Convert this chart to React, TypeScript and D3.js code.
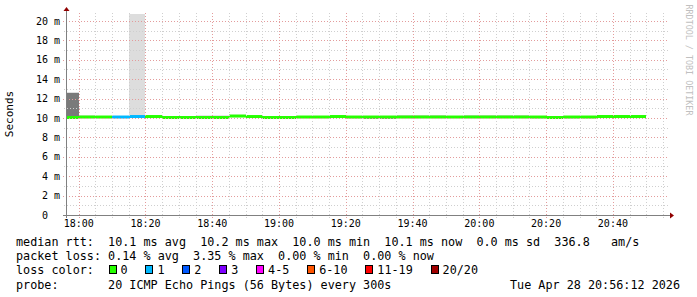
import React from 'react';
import * as d3 from 'd3';

// ---- data ----
const stepStarts = [
  "17:55", "18:00", "18:05", "18:10", "18:15", "18:20", "18:25", "18:30", "18:35", "18:40",
  "18:45", "18:50", "18:55", "19:00", "19:05", "19:10", "19:15", "19:20", "19:25", "19:30",
  "19:35", "19:40", "19:45", "19:50", "19:55", "20:00", "20:05", "20:10", "20:15", "20:20",
  "20:25", "20:30", "20:35", "20:40", "20:45",
];
const medianMs = [
  10.05, 10.1, 10.1, 10.1, 10.15, 10.15, 10.05, 10.05, 10.05, 10.05,
  10.2, 10.15, 10.05, 10.05, 10.1, 10.1, 10.15, 10.1, 10.1, 10.1,
  10.1, 10.1, 10.1, 10.1, 10.1, 10.1, 10.1, 10.1, 10.1, 10.05,
  10.1, 10.1, 10.15, 10.15, 10.15,
];
const smokeLowMs = [
  10.0, 10.05, 10.05, 10.05, 10.1, 10.1, 9.9, 9.9, 10.0, 10.0,
  10.15, 10.1, 9.9, 9.9, 10.05, 10.05, 10.1, 9.95, 9.9, 9.9,
  10.05, 10.05, 10.05, 10.05, 10.05, 10.05, 10.05, 10.05, 9.95, 9.92,
  9.95, 9.95, 10.1, 10.1, 10.1,
];
const smokeHighMs = [
  12.6, 10.25, 10.15, 10.2, 20.72, 10.25, 10.1, 10.1, 10.25, 10.25,
  10.32, 10.2, 10.1, 10.1, 10.15, 10.15, 10.2, 10.15, 10.15, 10.15,
  10.28, 10.28, 10.28, 10.15, 10.28, 10.28, 10.28, 10.28, 10.15, 10.1,
  10.15, 10.15, 10.3, 10.3, 10.3,
];
const smokeShade = [
  "#7a7a7a", "#c4c4c4", "#c4c4c4", "#c4c4c4", "#dddddd", "#c4c4c4", "#c4c4c4", "#c4c4c4", "#c4c4c4", "#c4c4c4",
  "#aaaaaa", "#c4c4c4", "#c4c4c4", "#c4c4c4", "#c4c4c4", "#c4c4c4", "#c4c4c4", "#c4c4c4", "#999999", "#999999",
  "#c4c4c4", "#c4c4c4", "#c4c4c4", "#c4c4c4", "#c4c4c4", "#c4c4c4", "#c4c4c4", "#c4c4c4", "#c4c4c4", "#555555",
  "#c4c4c4", "#c4c4c4", "#c4c4c4", "#c4c4c4", "#c4c4c4",
];
const lossCount = [
  0, 0, 0, 1, 1, 0, 0, 0, 0, 0,
  0, 0, 0, 0, 0, 0, 0, 0, 0, 0,
  0, 0, 0, 0, 0, 0, 0, 0, 0, 0,
  0, 0, 0, 0, 0,
];
const yTickValues = [0, 2, 4, 6, 8, 10, 12, 14, 16, 18, 20];
const xTickLabels = ["18:00", "18:20", "18:40", "19:00", "19:20", "19:40", "20:00", "20:20", "20:40"];
const lossLabels = ["0", "1", "2", "3", "4-5", "6-10", "11-19", "20/20"];
const lossColors = ["#26ff00", "#00b8ff", "#0059ff", "#7e00ff", "#ff00ff", "#ff5500", "#ff0000", "#a10000"];
const lossBins = [0, 1, 2, 3, 5, 10, 19, 20];

const legendLines = [
  "median rtt:  10.1 ms avg  10.2 ms max  10.0 ms min  10.1 ms now  0.0 ms sd  336.8   am/s",
  "packet loss: 0.14 % avg  3.35 % max  0.00 % min  0.00 % now",
];
const probeLabel = "probe:       20 ICMP Echo Pings (56 Bytes) every 300s";
const dateLabel = "Tue Apr 28 20:56:12 2026";

const parseHM = d3.timeParse("%H:%M");
const parseHMS = d3.timeParse("%H:%M:%S");

export default function App() {
  const W = 697, H = 297;
  const left = 66, right = 667, top = 14, bottom = 215;
  const x = d3.scaleTime()
    .domain([parseHMS("17:56:12")!, parseHMS("20:56:12")!])
    .range([left, right]);
  const y = d3.scaleLinear().domain([0, 20.72]).range([bottom, top]);

  const minorT = d3.timeMinute.every(5)!.range(x.domain()[0], x.domain()[1]);
  const majorT = xTickLabels.map((s) => parseHM(s)!);
  const minorY = d3.range(1, 21, 1);

  const mono = "'DejaVu Sans Mono', monospace";
  const charW = 11.78 * 0.602;
  const lossColorOf = (n: number) => {
    const i = lossBins.findIndex((b) => n <= b);
    return lossColors[i < 0 ? lossColors.length - 1 : i];
  };

  // loss legend positions
  let lx = 108.5;
  const lossItems = lossLabels.map((lab, i) => {
    const it = { x: lx, label: lab, color: lossColors[i] };
    lx += 11.5 + lab.length * charW + 18.3;
    return it;
  });

  return (
    <svg width={W} height={H} style={{ position: 'fixed', left: 0, top: 0, background: '#fff' }}
      xmlns="http://www.w3.org/2000/svg">
      <rect x={0} y={0} width={W} height={H} fill="#ffffff" />
      <defs>
        <clipPath id="plot">
          <rect x={left} y={top} width={right - left} height={bottom - top} />
        </clipPath>
      </defs>

      {/* smoke + median */}
      <g clipPath="url(#plot)">
        {stepStarts.map((s, i) => {
          const t0 = parseHM(s)!;
          const t1 = d3.timeMinute.offset(t0, 5);
          const x0 = Math.round(x(t0)), x1 = Math.round(x(t1));
          const yh = y(smokeHighMs[i]), yl = y(smokeLowMs[i]);
          return (
            <rect key={'s' + i} x={x0} y={yh} width={x1 - x0} height={yl - yh} fill={smokeShade[i]} />
          );
        })}
        {stepStarts.map((s, i) => {
          const t0 = parseHM(s)!;
          const t1 = d3.timeMinute.offset(t0, 5);
          const x0 = Math.round(x(t0)), x1 = Math.round(x(t1));
          const ym = y(medianMs[i]);
          return (
            <rect key={'m' + i} x={x0} y={ym - 1.5} width={x1 - x0} height={3} fill={lossColorOf(lossCount[i])} />
          );
        })}
      </g>

      {/* grid */}
      <g shapeRendering="crispEdges" strokeDasharray="1,2">
        {minorY.filter((v) => v % 2 !== 0).map((v) => (
          <line key={'hy' + v} x1={left - 2} x2={right + 1} y1={Math.round(y(v)) + 0.5} y2={Math.round(y(v)) + 0.5} stroke="#cfcfcf" />
        ))}
        {minorT.filter((t) => t.getMinutes() % 20 !== 0).map((t, i) => (
          <line key={'vx' + i} x1={Math.round(x(t)) + 0.5} x2={Math.round(x(t)) + 0.5} y1={top - 1} y2={bottom + 3} stroke="#cfcfcf" />
        ))}
        {yTickValues.filter((v) => v > 0).map((v) => (
          <line key={'my' + v} x1={left - 3} x2={right + 1} y1={Math.round(y(v)) + 0.5} y2={Math.round(y(v)) + 0.5} stroke="#e39c9c" />
        ))}
        {majorT.map((t, i) => (
          <line key={'mx' + i} x1={Math.round(x(t)) + 0.5} x2={Math.round(x(t)) + 0.5} y1={top - 1} y2={bottom + 3} stroke="#e39c9c" />
        ))}
      </g>

      {/* axes */}
      <g shapeRendering="crispEdges">
        <line x1={left - 3} x2={right + 3} y1={bottom + 0.5} y2={bottom + 0.5} stroke="#808080" />
        <line x1={left + 0.5} x2={left + 0.5} y1={bottom + 3} y2={top - 3} stroke="#808080" />
      </g>
      <path d={`M${right + 3},${bottom - 2.5} L${right + 7},${bottom + 0.5} L${right + 3},${bottom + 3.5} Z`} fill="#900000" />
      <path d={`M${left - 2.5},${top - 3} L${left + 0.5},${top - 7} L${left + 3.5},${top - 3} Z`} fill="#900000" />

      {/* y tick labels */}
      {yTickValues.map((v) => (
        <text key={'yl' + v} x={60} y={y(v) + 3.6} textAnchor="end" fontFamily={mono} fontSize={10} fill="#000"
          style={{ whiteSpace: 'pre' }}>{v === 0 ? '0  ' : `${v} m`}</text>
      ))}
      {/* x tick labels */}
      {majorT.map((t, i) => (
        <text key={'xl' + i} x={x(t)} y={227} textAnchor="middle" fontFamily={mono} fontSize={10} fill="#000">
          {xTickLabels[i]}
        </text>
      ))}

      <text transform="translate(13,114) rotate(-90)" textAnchor="middle" fontFamily={mono} fontSize={11} fill="#000">Seconds</text>
      <text transform="translate(686,60) rotate(90)" textAnchor="middle" fontFamily={mono} fontSize={8.4} fill="#c0c0c0">RRDTOOL / TOBI OETIKER</text>

      {/* legend */}
      {legendLines.map((l, i) => (
        <text key={'lg' + i} x={16} y={245.6 + i * 14.3} fontFamily={mono} fontSize={11.78} fill="#000"
          style={{ whiteSpace: 'pre' }}>{l}</text>
      ))}
      <text x={16} y={274.2} fontFamily={mono} fontSize={11.78} fill="#000" style={{ whiteSpace: 'pre' }}>loss color:</text>
      {lossItems.map((it, i) => (
        <g key={'li' + i}>
          <rect x={Math.round(it.x) + 0.5} y={265.5} width={7} height={8} fill={it.color} stroke="#000" shapeRendering="crispEdges" />
          <text x={it.x + 12} y={274.2} fontFamily={mono} fontSize={11.78} fill="#000" style={{ whiteSpace: 'pre' }}>{it.label}</text>
        </g>
      ))}
      <text x={16} y={288.5} fontFamily={mono} fontSize={11.78} fill="#000" style={{ whiteSpace: 'pre' }}>{probeLabel}</text>
      <text x={680} y={288.5} textAnchor="end" fontFamily={mono} fontSize={11.78} fill="#000">{dateLabel}</text>
    </svg>
  );
}
